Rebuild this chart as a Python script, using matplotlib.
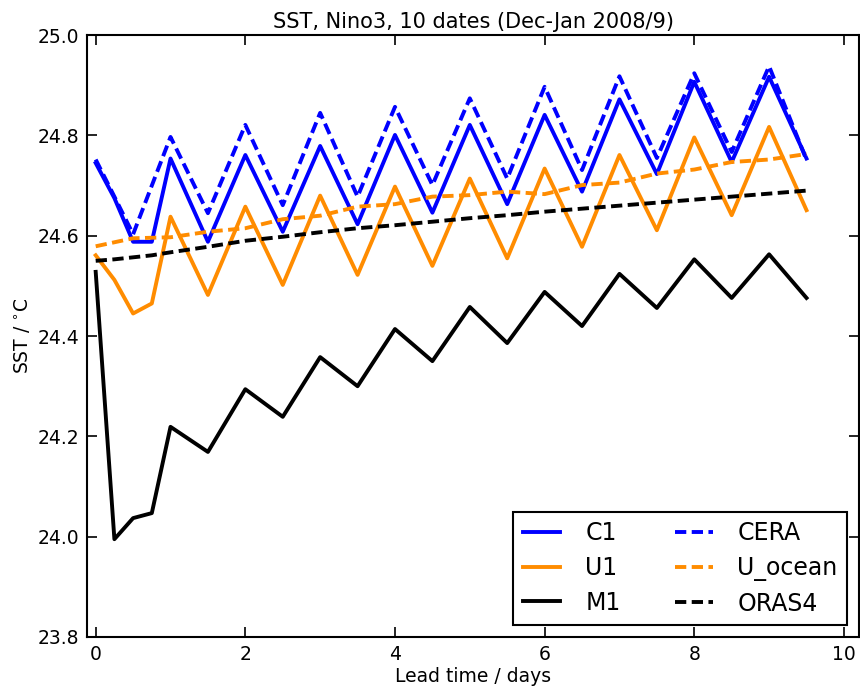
import matplotlib
matplotlib.use('Agg')
import matplotlib.pyplot as plt

# lead times (days): 6-hourly on day 0, then 12-hourly
lead = [0, 0.25, 0.5, 0.75, 1, 1.5, 2, 2.5, 3, 3.5, 4, 4.5, 5, 5.5,
        6, 6.5, 7, 7.5, 8, 8.5, 9, 9.5]

c1 = [24.745, 24.675, 24.588, 24.588, 24.754, 24.588, 24.761, 24.608, 24.779, 24.623, 24.801,
      24.646, 24.821, 24.663, 24.841, 24.688, 24.872, 24.723, 24.907, 24.747, 24.917, 24.754]
u1 = [24.561, 24.512, 24.445, 24.465, 24.638, 24.482, 24.658, 24.502, 24.680, 24.522, 24.698,
      24.540, 24.714, 24.555, 24.734, 24.578, 24.761, 24.611, 24.796, 24.641, 24.817, 24.651]
m1 = [24.528, 23.995, 24.037, 24.047, 24.219, 24.169, 24.294, 24.239, 24.358, 24.300, 24.414,
      24.350, 24.458, 24.386, 24.488, 24.420, 24.524, 24.456, 24.553, 24.476, 24.563, 24.476]

cera = [24.752, 24.678, 24.603, 24.700, 24.797, 24.645, 24.821, 24.661, 24.845, 24.678, 24.857,
        24.701, 24.874, 24.714, 24.897, 24.731, 24.918, 24.755, 24.924, 24.767, 24.938, 24.751]
u_ocean = [24.579, 24.587, 24.595, 24.596, 24.597, 24.608, 24.615, 24.633, 24.640, 24.658, 24.663,
           24.678, 24.681, 24.688, 24.683, 24.701, 24.706, 24.724, 24.732, 24.747, 24.752, 24.763]
oras4 = [24.550, 24.553, 24.557, 24.561, 24.567, 24.578, 24.590, 24.598, 24.607, 24.615, 24.621,
         24.628, 24.635, 24.641, 24.648, 24.654, 24.660, 24.666, 24.672, 24.678, 24.684, 24.690]

fig = plt.figure(figsize=(8.6, 6.89), dpi=100)
ax = fig.add_axes([0.1017, 0.0755, 0.897, 0.8735])

lw = 2.8
dash = (2.9, 1.4)
ax.plot(lead, c1, color='#0000ff', lw=lw, label='C1')
ax.plot(lead, u1, color='darkorange', lw=lw, label='U1')
ax.plot(lead, m1, color='black', lw=lw, label='M1')
ax.plot(lead, cera, color='#0000ff', lw=lw, ls='--', dashes=dash, label='CERA')
ax.plot(lead, u_ocean, color='darkorange', lw=lw, ls='--', dashes=dash, label='U_ocean')
ax.plot(lead, oras4, color='black', lw=lw, ls='--', dashes=dash, label='ORAS4')

ax.set_xlim(-0.11, 10.2)
ax.set_ylim(23.8, 25.0)
ax.set_xticks([0, 2, 4, 6, 8, 10])
ax.set_yticks([23.8, 24.0, 24.2, 24.4, 24.6, 24.8, 25.0])
ax.set_yticklabels(['%.1f' % v for v in ax.get_yticks()])
ax.tick_params(direction='in', top=True, right=True, length=7, width=1.2, labelsize=13.5, pad=6)
for s in ax.spines.values():
    s.set_linewidth(1.5)

ax.set_xlabel('Lead time / days', fontsize=13.5, labelpad=2)
ax.set_ylabel('SST / $^{\\circ}$C', fontsize=13.5)
ax.set_title('SST, Nino3, 10 dates (Dec-Jan 2008/9)', fontsize=15, pad=5)

leg = ax.legend(loc='lower right', ncol=2, fontsize=17, fancybox=False, framealpha=1,
                edgecolor='black', handlelength=1.6, handletextpad=1.05, columnspacing=2.3,
                borderaxespad=0.5, labelspacing=0.45)
leg.get_frame().set_linewidth(1.5)

fig.savefig('out.png', dpi=100)
